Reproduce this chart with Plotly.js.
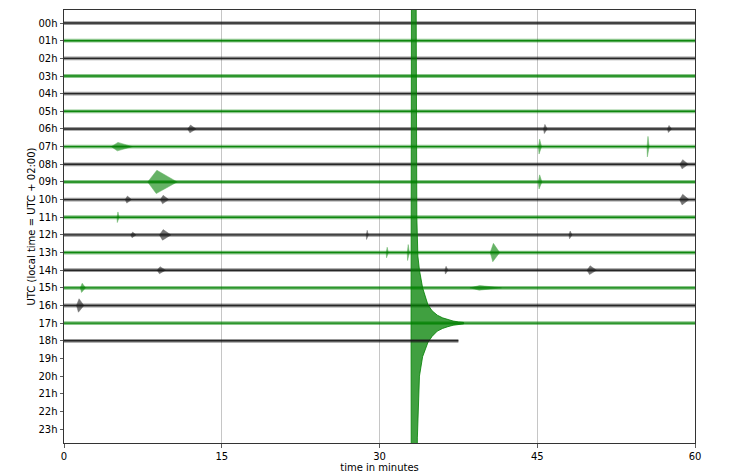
<!DOCTYPE html>
<html><head><meta charset="utf-8">
<script src="https://cdn.plot.ly/plotly-3.0.1.min.js"></script>
<style>html,body{margin:0;padding:0;background:#fff}</style>
</head><body><div id="chart" style="width:732px;height:475px"></div>
<script>
// ---- data ----
const hourLabels = ["00h","01h","02h","03h","04h","05h","06h","07h","08h","09h","10h","11h","12h","13h","14h","15h","16h","17h","18h","19h","20h","21h","22h","23h"];
const hourValues = [0,1,2,3,4,5,6,7,8,9,10,11,12,13,14,15,16,17,18,19,20,21,22,23];
const recordedHours = [0,1,2,3,4,5,6,7,8,9,10,11,12,13,14,15,16,17,18];
const recordedEndMinute = [60,60,60,60,60,60,60,60,60,60,60,60,60,60,60,60,60,60,37.5];
const xTickValues = [0,15,30,45,60];

// local bursts / spikes (hour row, centre minute, amplitude in rows, duration in minutes)
const eventHour   = [6,   6,    6,    7,   7,    7,    8,    9,   9,    10,  10,  10,   11,  12,  12,  12,   12,   13,   13,   13,   14,  14,   14,   15,  15,   16];
const eventMinute = [12.0,45.7, 57.5, 5.1, 45.2, 55.5, 58.8, 8.8, 45.2, 6.0, 9.4, 58.8, 5.1, 6.5, 9.4, 28.8, 48.1, 30.7, 32.7, 40.8, 9.1, 36.3, 50.0, 1.7, 39.5, 1.4];
const eventAmp    = [0.22,0.26, 0.2,  0.24,0.42, 0.58, 0.26, 0.66,0.4,  0.2, 0.24,0.3,  0.3, 0.16,0.3, 0.26, 0.22, 0.3,  0.45, 0.52, 0.2, 0.22, 0.25, 0.26,0.13, 0.38];
const eventDur    = [0.8, 0.35, 0.4,  2.0, 0.3,  0.2,  0.8,  2.8, 0.35, 0.6, 0.8, 0.9,  0.2, 0.5, 1.1, 0.2,  0.3,  0.2,  0.2,  0.9,  0.8, 0.3,  0.9,  0.5, 3.0,  0.7];

// the large event on the 17h line: envelope (minutes, amplitude in rows above / below the line)
const quakeHour = 17;
const quakeUpperMinute = [33.0, 33.05, 33.45, 33.55, 33.65, 33.8, 34.1, 34.6, 35.0, 35.5, 36.0, 36.5, 37.0, 37.5, 38.0];
const quakeUpperAmp    = [0,    25,    25,    6,     3.8,   3.0,  2.0,  1.05, 0.7,  0.45, 0.3,  0.2,  0.12, 0.07, 0.04];
const quakeLowerMinute = [33.0, 33.05, 33.5,  33.6,  33.7,  33.8, 34.1, 34.6, 35.0, 35.5, 36.0, 36.5, 37.0, 37.5, 38.0];
const quakeLowerAmp    = [0,    25,    25,    6.5,   4.6,   3.0,  1.9,  1.1,  0.75, 0.45, 0.3,  0.2,  0.12, 0.07, 0.04];

// ---- styles ----
const BLACK = "#1a1a1a", GREEN = "#008000";
function rowColor(h){ return h % 2 === 0 ? BLACK : GREEN; }

const traces = [];
function addRow(i){
  const h = recordedHours[i], c = rowColor(h), end = recordedEndMinute[i];
  traces.push({x:[0,end], y:[h,h], mode:"lines", line:{color:c, width:3.8}, opacity:0.45, hoverinfo:"skip", showlegend:false});
  traces.push({x:[0,end], y:[h,h], mode:"lines", line:{color:c, width:1.4}, opacity:0.9, hoverinfo:"skip", showlegend:false});
  const ex = [], ey = [];
  for (let k = 0; k < eventHour.length; k++) {
    if (eventHour[k] !== h) continue;
    const t = eventMinute[k], a = eventAmp[k], d = eventDur[k];
    ex.push(t - d*0.3, t - 0.03, t + 0.03, t + d*0.7, t + 0.03, t - 0.03, t - d*0.3, null);
    ey.push(h, h - a, h - a, h, h + a, h + a, h, null);
  }
  if (ex.length) traces.push({x:ex, y:ey, mode:"lines", fill:"toself", fillcolor:c, line:{color:c, width:0.5}, opacity:0.6, hoverinfo:"skip", showlegend:false});
}
function addQuake(){
  const qx = [], qy = [];
  for (let k = 0; k < quakeUpperMinute.length; k++){ qx.push(quakeUpperMinute[k]); qy.push(quakeHour - quakeUpperAmp[k]); }
  for (let k = quakeLowerMinute.length - 1; k >= 0; k--){ qx.push(quakeLowerMinute[k]); qy.push(quakeHour + quakeLowerAmp[k]); }
  traces.push({x:qx, y:qy, mode:"lines", fill:"toself", fillcolor:"rgba(0,128,0,0.75)", line:{color:GREEN, width:0.8}, hoverinfo:"skip", showlegend:false});
}
for (let i = 0; i < recordedHours.length; i++){
  if (recordedHours[i] === quakeHour) addQuake();
  addRow(i);
}

const font = {family:"DejaVu Sans, sans-serif", size:10, color:"#000"};
const layout = {
  width:732, height:475,
  margin:{l:64, r:37, t:10, b:32, pad:0},
  paper_bgcolor:"#fff", plot_bgcolor:"#fff",
  font:font,
  showlegend:false,
  xaxis:{range:[0,60], tickvals:xTickValues, ticktext:xTickValues.map(String), showgrid:true, gridcolor:"#b8b8b8", gridwidth:0.8,
         zeroline:false, showline:true, mirror:true, linecolor:"#333", linewidth:1, ticks:"outside", ticklen:3.5, tickwidth:0.8, tickcolor:"#333",
         tickfont:font, title:{text:"time in minutes", font:font, standoff:2}, automargin:false, fixedrange:true},
  yaxis:{range:[23.79,-0.74], tickvals:hourValues, ticktext:hourLabels, showgrid:false, zeroline:false, showline:true, mirror:true,
         linecolor:"#333", linewidth:1, ticks:"outside", ticklen:3.5, tickwidth:0.8, tickcolor:"#333",
         tickfont:font, title:{text:"UTC (local time = UTC + 02:00)", font:font, standoff:0}, automargin:false, fixedrange:true}
};
Plotly.newPlot("chart", traces, layout, {staticPlot:true, displayModeBar:false});
</script></body></html>
